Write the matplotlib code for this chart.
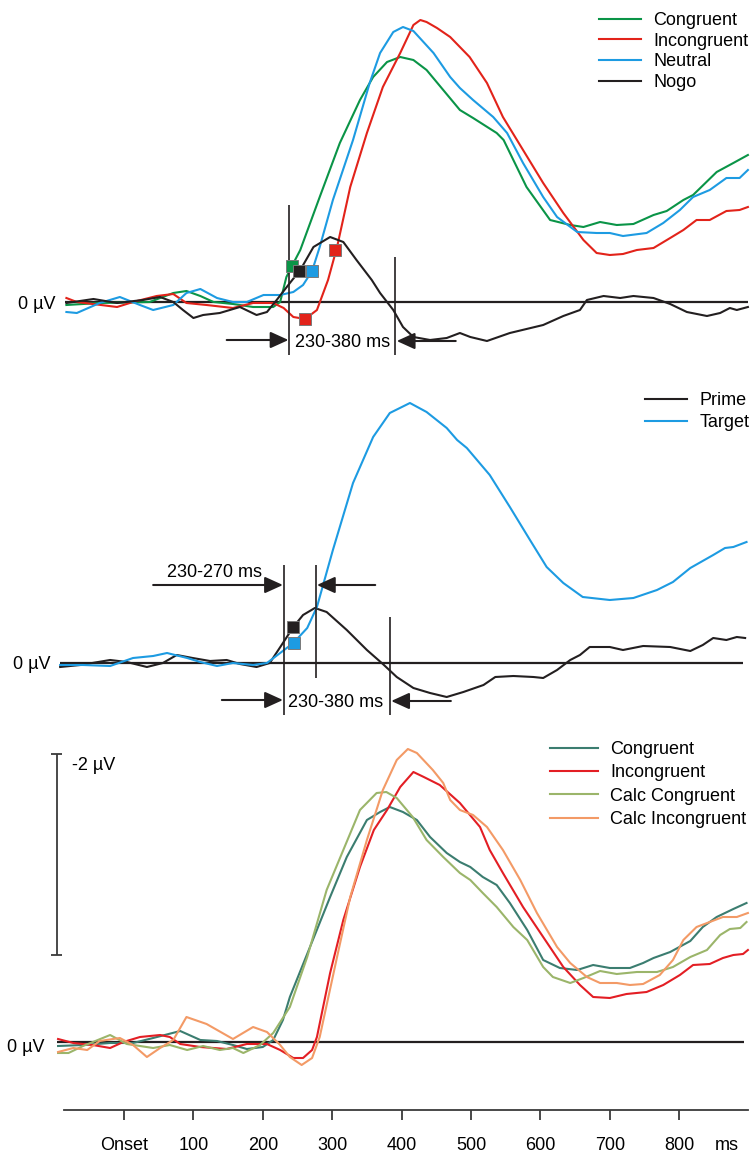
import numpy as np
import matplotlib.pyplot as plt

plt.rcParams['font.family'] = ['Liberation Sans', 'DejaVu Sans']
plt.rcParams['font.size'] = 13

# ---------------- data (ms, µV; negative plotted upward) ----------------
# panel 1: go/nogo conditions
p1_cong_t = [-83, -35, 37, 71, 90, 110, 129, 157, 186, 215, 225, 234, 242, 254, 282, 311, 340, 359, 379, 398,
             417, 436, 460, 484, 503, 537, 547, 580, 614, 643, 662, 686, 710, 734, 763, 782, 806, 820, 854, 878, 899]
p1_cong_v = [0.03, 0.01, 0.0, -0.09, -0.11, -0.06, 0.0, 0.02, 0.05, 0.05, 0.0, -0.25, -0.36, -0.52, -1.05, -1.59,
             -2.02, -2.25, -2.40, -2.45, -2.42, -2.32, -2.12, -1.92, -1.84, -1.69, -1.62, -1.15, -0.82, -0.77,
             -0.75, -0.80, -0.77, -0.78, -0.87, -0.91, -1.02, -1.07, -1.30, -1.39, -1.47]

p1_incong_t = [-83, -68, -10, 13, 47, 71, 90, 119, 157, 186, 215, 230, 244, 261, 278, 294, 307, 326, 350, 373,
               398, 417, 427, 436, 451, 470, 498, 523, 546, 575, 604, 633, 662, 681, 700, 719, 739, 763, 787, 806,
               825, 844, 868, 887, 899]
p1_incong_v = [-0.04, 0.0, 0.05, 0.0, -0.06, -0.08, 0.01, 0.03, 0.06, 0.01, 0.01, 0.06, 0.15, 0.17, 0.08, -0.22,
               -0.55, -1.15, -1.69, -2.15, -2.49, -2.77, -2.82, -2.80, -2.74, -2.65, -2.45, -2.19, -1.85, -1.52,
               -1.19, -0.89, -0.62, -0.49, -0.47, -0.48, -0.52, -0.54, -0.64, -0.72, -0.82, -0.82, -0.91, -0.92, -0.95]

p1_neutral_t = [-83, -68, -35, -6, 23, 42, 71, 90, 110, 134, 157, 177, 201, 225, 244, 258, 271, 282, 301, 330,
                354, 369, 388, 402, 417, 446, 470, 484, 503, 532, 552, 575, 604, 624, 653, 681, 700, 719, 753, 777,
                801, 820, 844, 868, 887, 899]
p1_neutral_v = [0.10, 0.11, 0.01, -0.05, 0.03, 0.08, 0.03, -0.09, -0.13, -0.04, 0.0, 0.0, -0.07, -0.07, -0.10,
                -0.17, -0.31, -0.55, -1.02, -1.62, -2.19, -2.49, -2.70, -2.75, -2.71, -2.49, -2.25, -2.14, -2.02,
                -1.85, -1.69, -1.39, -1.05, -0.85, -0.70, -0.69, -0.69, -0.66, -0.69, -0.79, -0.92, -1.05, -1.12,
                -1.24, -1.24, -1.32]

p1_nogo_t = [-83, -44, -10, 27, 52, 71, 85, 100, 114, 138, 167, 191, 206, 220, 239, 254, 273, 297, 316, 335,
             357, 369, 388, 402, 417, 441, 465, 484, 499, 523, 556, 580, 604, 633, 657, 667, 691, 715, 734, 763,
             787, 811, 840, 859, 873, 883, 899]
p1_nogo_v = [0.01, -0.03, 0.01, -0.02, -0.05, 0.0, 0.08, 0.16, 0.13, 0.11, 0.05, 0.13, 0.10, -0.02, -0.19, -0.32,
             -0.55, -0.65, -0.60, -0.42, -0.22, -0.09, 0.08, 0.25, 0.35, 0.38, 0.36, 0.31, 0.35, 0.39, 0.31, 0.27,
             0.23, 0.14, 0.08, -0.02, -0.06, -0.04, -0.06, -0.04, 0.02, 0.10, 0.14, 0.11, 0.06, 0.08, 0.05]

p1_onset_t = [242, 252, 271, 261, 304]
p1_onset_v = [-0.36, -0.31, -0.31, 0.17, -0.52]

# panel 2: prime vs target
p2_target_t = [-92, -59, -20, 13, 42, 62, 91, 110, 134, 157, 186, 206, 225, 244, 264, 278, 301, 330, 359, 383,
               412, 436, 465, 480, 494, 527, 556, 585, 609, 633, 661, 700, 734, 768, 791, 816, 849, 866, 878, 897]
p2_target_v = [0.02, 0.02, 0.03, -0.05, -0.07, -0.10, -0.05, -0.01, 0.03, 0.0, 0.02, 0.0, -0.10, -0.20, -0.35,
               -0.56, -1.13, -1.80, -2.26, -2.50, -2.60, -2.51, -2.35, -2.23, -2.15, -1.88, -1.56, -1.23, -0.96,
               -0.80, -0.66, -0.63, -0.65, -0.73, -0.81, -0.95, -1.08, -1.15, -1.16, -1.21]

p2_prime_t = [-92, -63, -20, 4, 33, 56, 76, 99, 124, 148, 167, 191, 210, 229, 244, 258, 275, 292, 321, 350,
              373, 393, 417, 441, 465, 489, 518, 535, 561, 590, 604, 624, 643, 657, 671, 700, 719, 748, 787, 816,
              834, 849, 868, 883, 895]
p2_prime_v = [0.04, 0.02, -0.03, -0.01, 0.04, 0.0, -0.08, -0.05, -0.02, -0.03, 0.01, 0.04, 0.0, -0.20, -0.36,
              -0.48, -0.55, -0.51, -0.33, -0.13, 0.01, 0.14, 0.25, 0.30, 0.34, 0.29, 0.22, 0.14, 0.13, 0.14, 0.15,
              0.07, -0.03, -0.08, -0.16, -0.16, -0.13, -0.17, -0.16, -0.12, -0.18, -0.25, -0.23, -0.26, -0.25]

p2_onset_t = [244, 245]
p2_onset_v = [-0.36, -0.20]

# panel 3: observed vs calculated
p3_cong_t = [-95, -59, -20, 13, 42, 81, 110, 134, 157, 177, 200, 215, 229, 239, 268, 297, 321, 350, 369, 383,
             402, 422, 441, 465, 484, 499, 517, 537, 556, 581, 604, 628, 653, 676, 700, 729, 748, 763, 787, 816,
             834, 854, 878, 897]
p3_cong_v = [0.04, 0.03, 0.01, 0.01, -0.04, -0.11, -0.02, -0.01, 0.03, 0.07, 0.05, -0.02, -0.22, -0.45, -0.95,
             -1.45, -1.85, -2.22, -2.30, -2.35, -2.30, -2.22, -2.05, -1.89, -1.80, -1.75, -1.65, -1.57, -1.39,
             -1.12, -0.82, -0.74, -0.72, -0.77, -0.74, -0.74, -0.79, -0.84, -0.90, -1.01, -1.15, -1.25, -1.33, -1.39]

p3_incong_t = [-95, -73, -45, -20, -1, 23, 52, 66, 81, 110, 148, 177, 206, 225, 244, 258, 271, 278, 297, 316,
               340, 360, 379, 398, 417, 432, 455, 484, 513, 527, 546, 575, 604, 633, 657, 676, 700, 724, 753, 777,
               801, 820, 844, 863, 878, 892, 899]
p3_incong_v = [-0.03, 0.01, 0.03, 0.06, 0.0, -0.05, -0.07, -0.05, 0.02, 0.05, 0.07, 0.02, 0.02, 0.08, 0.16, 0.16,
               0.08, -0.05, -0.69, -1.22, -1.75, -2.12, -2.32, -2.55, -2.70, -2.65, -2.57, -2.39, -2.15, -1.92,
               -1.69, -1.35, -1.05, -0.75, -0.57, -0.45, -0.44, -0.48, -0.50, -0.57, -0.67, -0.77, -0.78, -0.84,
               -0.87, -0.88, -0.92]

p3_calc_cong_t = [-95, -80, -59, -20, 4, 42, 66, 91, 114, 138, 157, 172, 196, 215, 239, 264, 292, 316, 340, 364,
                  378, 393, 416, 436, 460, 484, 499, 517, 537, 561, 581, 604, 618, 643, 662, 686, 710, 739, 768,
                  791, 816, 840, 859, 873, 888, 897]
p3_calc_cong_v = [0.11, 0.11, 0.04, -0.07, 0.02, 0.06, 0.03, 0.08, 0.04, 0.08, 0.06, 0.11, 0.03, -0.09, -0.35,
                  -0.85, -1.52, -1.92, -2.32, -2.49, -2.50, -2.44, -2.25, -2.02, -1.85, -1.69, -1.62, -1.49, -1.35,
                  -1.15, -1.02, -0.75, -0.65, -0.59, -0.64, -0.71, -0.68, -0.70, -0.70, -0.75, -0.85, -0.92, -1.07,
                  -1.13, -1.14, -1.20]

p3_calc_incong_t = [-95, -73, -53, -35, -6, 13, 33, 52, 71, 90, 119, 157, 186, 206, 225, 239, 256, 271, 282, 307,
                    326, 350, 373, 393, 409, 422, 445, 460, 470, 484, 503, 523, 546, 571, 595, 624, 643, 667, 686,
                    710, 729, 748, 772, 791, 806, 825, 844, 863, 883, 899]
p3_calc_incong_v = [0.10, 0.06, 0.08, -0.01, -0.04, 0.03, 0.15, 0.06, -0.02, -0.25, -0.18, -0.03, -0.15, -0.10,
                    0.03, 0.15, 0.23, 0.16, -0.05, -0.85, -1.45, -2.02, -2.52, -2.82, -2.93, -2.89, -2.72, -2.59,
                    -2.42, -2.32, -2.27, -2.15, -1.92, -1.62, -1.29, -0.95, -0.79, -0.65, -0.59, -0.59, -0.57,
                    -0.58, -0.67, -0.82, -1.02, -1.15, -1.20, -1.25, -1.25, -1.29]

tick_ms = [0, 100, 200, 300, 400, 500, 600, 700, 800]
tick_labels = ['Onset', '100', '200', '300', '400', '500', '600', '700', '800']

# ---------------- style ----------------
INK = '#231f20'
GREEN, RED, BLUE = '#0a9447', '#e2231a', '#1d9be2'
TEAL, RED3, OLIVE, ORANGE = '#3b7d70', '#e31e24', '#9bb56a', '#f39a66'
LW = 1.5

W, H = 753, 1153
ONSET_PX, PX_PER_MS, PX_PER_UV = 124, 0.694, 100.0

fig = plt.figure(figsize=(W / 100, H / 100), dpi=100)


def px2fig(x, y):
    return x / W, 1 - y / H


def panel(top, bottom, zero):
    ax = fig.add_axes([0, 1 - bottom / H, 1, (bottom - top) / H])
    ax.set_xlim(-ONSET_PX / PX_PER_MS, (W - ONSET_PX) / PX_PER_MS)
    ax.set_ylim((bottom - zero) / PX_PER_UV, (top - zero) / PX_PER_UV)
    for s in ax.spines.values():
        s.set_visible(False)
    ax.set_xticks([])
    ax.set_yticks([])
    ax.patch.set_alpha(0)
    return ax


def arrow(ax, x0, x1, y):
    ax.annotate('', xy=(x1, y), xytext=(x0, y),
                arrowprops=dict(arrowstyle='-|>,head_length=0.55,head_width=0.25', mutation_scale=20,
                                color=INK, lw=1.5, shrinkA=0, shrinkB=0))


def squares(ax, t, v, colors):
    for ti, vi, c in zip(t, v, colors):
        ax.plot(ti, vi, 's', ms=8.2, mfc=c, mec='#7a7a7a', mew=0.7, zorder=5)


def legend(ax, lines, labels, x, y, handle_px, spacing):
    ax.legend(lines, labels, loc='upper left', bbox_to_anchor=px2fig(x, y), bbox_transform=fig.transFigure,
              frameon=False, borderpad=0, borderaxespad=0, handlelength=handle_px / 18.0,
              handletextpad=12 / 18.0, labelspacing=spacing, fontsize=13)


# ---------------- panel 1 ----------------
ax1 = panel(0, 360, 302)
ax1.hlines(0, -85, 899, color=INK, lw=1.6)
l_c, = ax1.plot(p1_cong_t, p1_cong_v, color=GREEN, lw=LW)
l_i, = ax1.plot(p1_incong_t, p1_incong_v, color=RED, lw=LW)
l_n, = ax1.plot(p1_neutral_t, p1_neutral_v, color=BLUE, lw=LW)
l_g, = ax1.plot(p1_nogo_t, p1_nogo_v, color=INK, lw=LW)
squares(ax1, p1_onset_t, p1_onset_v, [GREEN, INK, BLUE, RED, RED])
ax1.vlines(238, -0.97, 0.53, color=INK, lw=1.2)
ax1.vlines(391, -0.45, 0.53, color=INK, lw=1.2)
arrow(ax1, 148, 237, 0.38)
arrow(ax1, 478, 393, 0.39)
ax1.text(315, 0.45, '230-380 ms', ha='center', va='baseline')
ax1.text(-99, 0.07, '0 µV', ha='right', va='baseline')
legend(ax1, [l_c, l_i, l_n, l_g], ['Congruent', 'Incongruent', 'Neutral', 'Nogo'], 599, 12, 42, 0.2)

# ---------------- panel 2 ----------------
ax2 = panel(360, 720, 663)
ax2.hlines(0, -92, 892, color=INK, lw=1.6)
l_p, = ax2.plot(p2_prime_t, p2_prime_v, color=INK, lw=LW)
l_t, = ax2.plot(p2_target_t, p2_target_v, color=BLUE, lw=LW)
squares(ax2, p2_onset_t, p2_onset_v, [INK, BLUE])
ax2.vlines(230.5, -0.98, 0.52, color=INK, lw=1.2)
ax2.vlines(276.5, -0.98, 0.15, color=INK, lw=1.2)
ax2.vlines(383, -0.46, 0.52, color=INK, lw=1.2)
arrow(ax2, 42, 229, -0.78)
arrow(ax2, 362, 278, -0.78)
arrow(ax2, 141, 229, 0.37)
arrow(ax2, 471, 385, 0.38)
ax2.text(130, -0.86, '230-270 ms', ha='center', va='baseline')
ax2.text(305, 0.44, '230-380 ms', ha='center', va='baseline')
ax2.text(-106, 0.06, '0 µV', ha='right', va='baseline')
legend(ax2, [l_p, l_t], ['Prime', 'Target'], 645, 392, 42, 0.28)

# ---------------- panel 3 ----------------
ax3 = panel(720, 1110, 1042)
ax3.hlines(0, -96, 893, color=INK, lw=1.6)
l3a, = ax3.plot(p3_cong_t, p3_cong_v, color=TEAL, lw=LW)
l3b, = ax3.plot(p3_incong_t, p3_incong_v, color=RED3, lw=LW)
l3c, = ax3.plot(p3_calc_cong_t, p3_calc_cong_v, color=OLIVE, lw=LW)
l3d, = ax3.plot(p3_calc_incong_t, p3_calc_incong_v, color=ORANGE, lw=LW)
# -2 µV scale bar
ax3.vlines(-96.5, -2.88, -0.87, color='#3a3a3a', lw=1.3)
ax3.hlines([-2.88, -0.87], -105, -89, color='#3a3a3a', lw=1.3)
ax3.text(-75, -2.72, '-2 µV', ha='left', va='baseline')
ax3.text(-114, 0.10, '0 µV', ha='right', va='baseline')
legend(ax3, [l3a, l3b, l3c, l3d], ['Congruent', 'Incongruent', 'Calc Congruent', 'Calc Incongruent'],
       550, 741, 48, 0.35)

ax3.spines['bottom'].set_visible(True)
ax3.spines['bottom'].set_bounds(-86, 899)
ax3.spines['bottom'].set_color('#3a3a3a')
ax3.spines['bottom'].set_linewidth(1.3)
ax3.set_xticks(tick_ms, labels=tick_labels)
ax3.set_xticks([868], labels=['ms'], minor=True)
ax3.tick_params(axis='x', which='major', length=7, width=1.3, color='#3a3a3a', pad=12.5, labelsize=13)
ax3.tick_params(axis='x', which='minor', length=0, pad=19.5, labelsize=13)

fig.savefig('out.png', dpi=100)
